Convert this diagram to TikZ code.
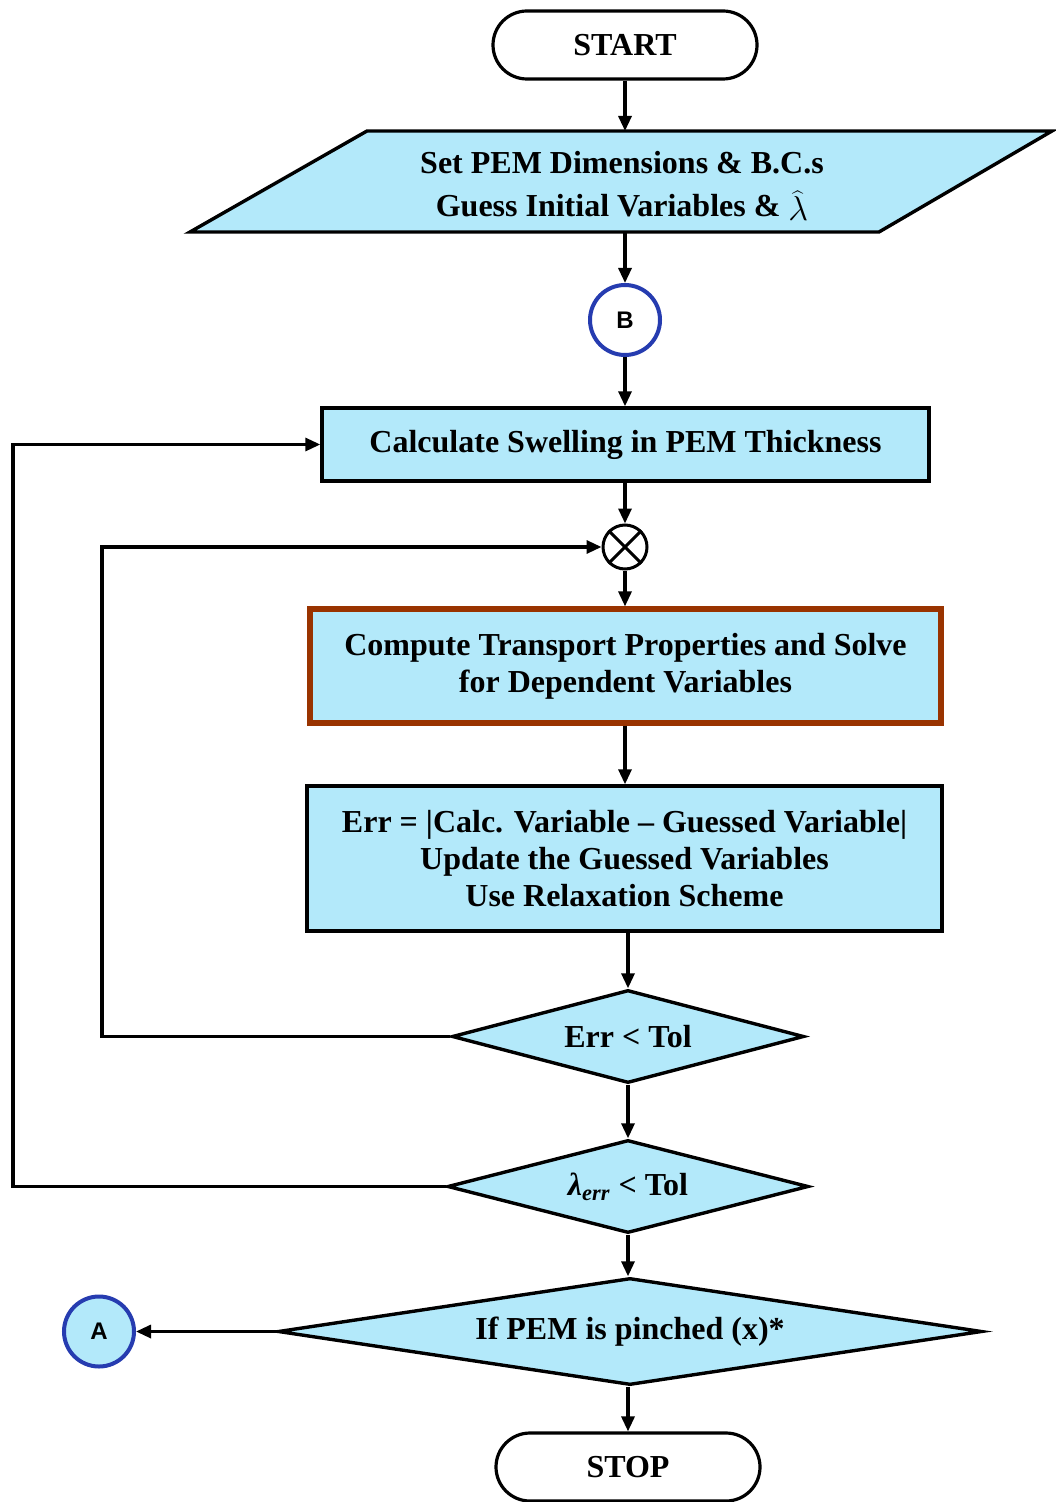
\documentclass[tikz,border=0pt]{standalone}
\usepackage{fontspec}
\setmainfont{Liberation Serif}
\setsansfont{Liberation Sans}
\usetikzlibrary{arrows.meta,shapes.geometric}
\definecolor{fillblue}{RGB}{179,233,250}
\definecolor{ringblue}{RGB}{38,60,176}
\definecolor{brownline}{RGB}{153,51,0}
\begin{document}
\begin{tikzpicture}[x=0.5pt,y=-0.5pt,
  txt/.style={font=\bfseries\fontsize{16}{18.5}\selectfont, align=center},
  term/.style={txt, draw, line width=1.6pt, rounded corners=17pt, minimum width=132pt, minimum height=34pt, inner sep=0pt},
  procbox/.style={txt, draw, fill=fillblue, line width=1.7pt, inner sep=0pt},
  dec/.style={txt, shape=diamond, draw, fill=fillblue, line width=1.7pt, inner sep=0pt},
  conn/.style={circle, draw=ringblue, line width=2pt, minimum size=35pt, inner sep=0pt, font=\sffamily\bfseries\fontsize{12}{12}\selectfont},
  arr/.style={line width=1.6pt, -{Triangle[length=7.5pt,width=6.5pt]}},
  ln/.style={line width=1.5pt}
]
\useasboundingbox (0,0) rectangle (1055,1502);

% nodes
\node[term] (start) at (625,45) {START};
\path[draw, fill=fillblue, line width=1.7pt] (367,131) -- (1052,131) -- (879,232) -- (190,232) -- cycle;
\node[txt] (io) at (622,186) {Set PEM Dimensions \& B.C.s\\[3pt]Guess Initial Variables \& \raisebox{-2pt}{$\widehat{\lambda}$}};
\coordinate (ioT) at (625,131);
\coordinate (ioB) at (625,232);
\node[conn, fill=white] (B) at (625,320) {B};
\node[procbox, minimum width=303.5pt, minimum height=36.5pt] (calc) at (625.5,444.5) {Calculate Swelling in PEM Thickness};
\node[circle, draw, line width=1.5pt, minimum size=22pt, inner sep=0pt] (x) at (625,547) {};
\draw[ln] (x.north west) -- (x.south east) (x.north east) -- (x.south west);
\node[procbox, draw=brownline, line width=2.6pt, minimum width=315.5pt, minimum height=57pt] (comp) at (625.5,666) {Compute Transport Properties and Solve\\for Dependent Variables};
\node[procbox, minimum width=317.5pt, minimum height=72.5pt] (err) at (624.5,858.5) {Err = |Calc. Variable – Guessed Variable|\\Update the Guessed Variables\\Use Relaxation Scheme};
\node[dec, aspect=3.78, minimum width=176pt, minimum height=46.5pt] (d1) at (628,1036.5) {Err < Tol};
\node[dec, aspect=3.9, minimum width=180.5pt, minimum height=46.5pt] (d2) at (628,1186.5) {{\itshape λ\textsubscript{err}} < Tol};
\node[dec, aspect=6.58, minimum width=352pt, minimum height=53.5pt] (d3) at (630,1331.5) {If PEM is pinched (x)*};
\node[conn, fill=fillblue] (A) at (99,1331.5) {A};
\node[term] (stop) at (628,1467) {STOP};
\coordinate (c1) at (102,548);
\coordinate (c2) at (13,446);

% connectors
\draw[arr] (start.south) -- (ioT);
\draw[arr] (ioB) -- (B.north);
\draw[arr] (B.south) -- (B.south |- calc.north);
\draw[arr] (x.north |- calc.south) -- (x.north);
\draw[arr] (x.south) -- (x.south |- comp.north);
\draw[arr] (x.south |- comp.south) -- (x.south |- err.north);
\draw[arr] (d1.north |- err.south) -- (d1.north);
\draw[arr] (d1.south) -- (d2.north);
\draw[arr] (d2.south) -- (d2.south |- d3.north);
\draw[arr] (d2.south |- d3.south) -- (stop.north);
\draw[arr] (d1.west) -- (d1.west -| c1) |- (x.west);
\draw[arr] (d2.west) -- (d2.west -| c2) |- (calc.west);
\draw[arr] (d3.west) -- (A.east);
\end{tikzpicture}
\end{document}
